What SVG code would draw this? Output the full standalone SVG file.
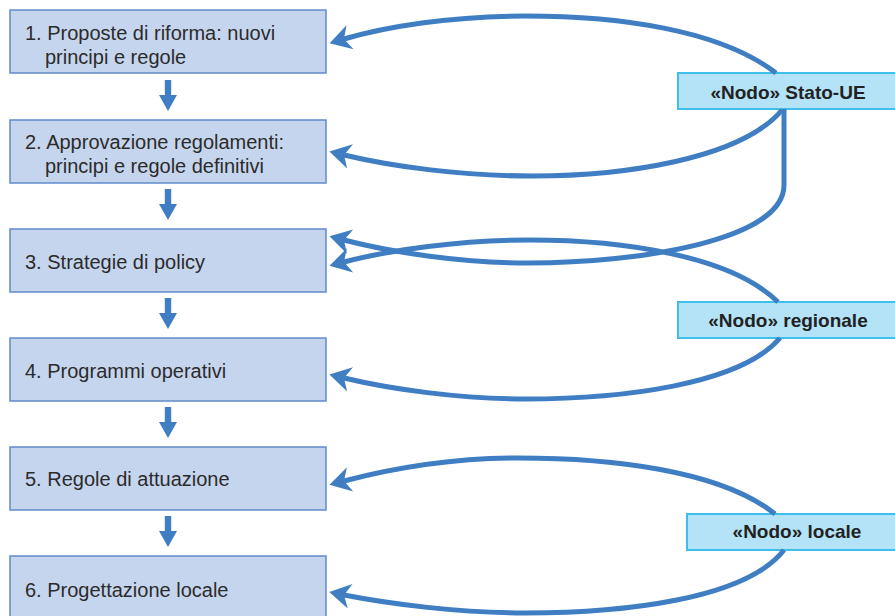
<svg xmlns="http://www.w3.org/2000/svg" width="895" height="616" viewBox="0 0 895 616">
  <style>
    .step rect { fill: #c6d5ee; stroke: #5f8acb; stroke-width: 1.5; }
    .step text { font-family: "Liberation Sans", Arial, sans-serif; font-size: 20px; fill: #2b2b2b; }
    .nodo rect { fill: #b4e3f8; stroke: #3ebfea; stroke-width: 2; }
    .nodo text { font-family: "Liberation Sans", Arial, sans-serif; font-size: 19px; font-weight: bold; fill: #222; text-anchor: middle; }
    .flow { fill: #3f7ec2; }
    .link { fill: none; stroke: #3f7ec2; stroke-width: 5; }
  </style>
  <defs>
    <marker id="head" markerUnits="userSpaceOnUse" markerWidth="30" markerHeight="30" viewBox="-10 -12 24 24" refX="0" refY="0" orient="auto" overflow="visible">
      <path d="M12,0 L-5,-10 L0,0 L-5,10 Z" fill="#3f7ec2"/>
    </marker>
    <g id="down">
      <rect x="-3.2" y="0" width="6.4" height="17"/>
      <path d="M-9,15 L9,15 L0,31 Z"/>
    </g>
  </defs>

  <!-- process steps -->
  <g id="step1" class="step">
    <rect x="10" y="10" width="316" height="63"/>
    <text x="25" y="39.5">1. Proposte di riforma: nuovi</text>
    <text x="45" y="63.5">principi e regole</text>
  </g>
  <g id="step2" class="step">
    <rect x="10" y="120" width="316" height="63"/>
    <text x="25" y="148.5">2. Approvazione regolamenti:</text>
    <text x="45" y="172.5">principi e regole definitivi</text>
  </g>
  <g id="step3" class="step">
    <rect x="10" y="229" width="316" height="63"/>
    <text x="25" y="269">3. Strategie di policy</text>
  </g>
  <g id="step4" class="step">
    <rect x="10" y="338" width="316" height="63"/>
    <text x="25" y="378">4. Programmi operativi</text>
  </g>
  <g id="step5" class="step">
    <rect x="10" y="447" width="316" height="63"/>
    <text x="25" y="486">5. Regole di attuazione</text>
  </g>
  <g id="step6" class="step">
    <rect x="10" y="556" width="316" height="70"/>
    <text x="25" y="597">6. Progettazione locale</text>
  </g>

  <!-- level nodes -->
  <g id="nodo-stato" class="nodo">
    <rect x="678" y="73" width="220" height="36"/>
    <text x="788" y="98.5">«Nodo» Stato-UE</text>
  </g>
  <g id="nodo-regionale" class="nodo">
    <rect x="678" y="302" width="220" height="36"/>
    <text x="788" y="327">«Nodo» regionale</text>
  </g>
  <g id="nodo-locale" class="nodo">
    <rect x="687" y="514" width="211" height="36"/>
    <text x="797" y="538">«Nodo» locale</text>
  </g>

  <!-- connectors -->
  <g id="connectors">
    <g class="flow">
      <use href="#down" x="168" y="80"/>
      <use href="#down" x="168" y="189"/>
      <use href="#down" x="168" y="298"/>
      <use href="#down" x="168" y="407"/>
      <use href="#down" x="168" y="516"/>
    </g>
    <path class="link" marker-end="url(#head)" d="M776,73 C720,30 620,16 525,16 C450,16 385,27 344,39"/>
    <path class="link" marker-end="url(#head)" d="M782,110 C740,160 620,176 533,176 C460,176 390,166 344,155"/>
    <path class="link" marker-end="url(#head)" d="M784,109 L784,185 C784,240 640,263 528,263 C460,263 390,252 344,240"/>
    <path class="link" marker-end="url(#head)" d="M778,302 C730,255 620,240 530,240 C460,240 390,250 344,262"/>
    <path class="link" marker-end="url(#head)" d="M780,338 C740,385 620,399 525,399 C460,399 390,389 344,378"/>
    <path class="link" marker-end="url(#head)" d="M775,514 C720,470 610,458 518,458 C450,458 390,469 344,481"/>
    <path class="link" marker-end="url(#head)" d="M784,550 C745,600 620,613 525,613 C460,613 390,604 344,595"/>
  </g>
</svg>
